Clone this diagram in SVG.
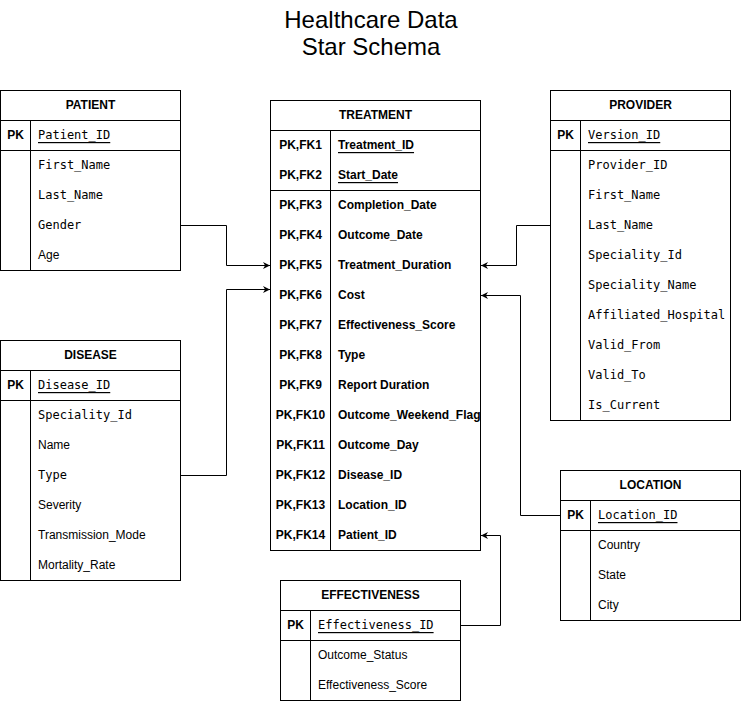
<svg xmlns="http://www.w3.org/2000/svg" width="741" height="701" viewBox="0 0 741 701">
<defs>
<marker id="arr" viewBox="0 0 10 10" refX="10" refY="5" markerWidth="7" markerHeight="7" markerUnits="userSpaceOnUse" orient="auto">
<path d="M0,0 L10,5 L0,10 L3,5 Z" fill="#000"/>
</marker>
<style>
.box{fill:#fff;stroke:#000;stroke-width:1}
.ln{stroke:#000;stroke-width:1;fill:none}
.hd{font-family:"Liberation Sans",Arial,sans-serif;font-size:12px;font-weight:bold;text-anchor:middle;dominant-baseline:central}
.pk{font-family:"Liberation Sans",Arial,sans-serif;font-size:12px;font-weight:bold;text-anchor:middle;dominant-baseline:central}
.s{font-family:"Liberation Sans",Arial,sans-serif;font-size:12px;dominant-baseline:central}
.b{font-family:"Liberation Sans",Arial,sans-serif;font-size:12px;font-weight:bold;dominant-baseline:central}
.m{font-family:"DejaVu Sans Mono",monospace;font-size:12px;dominant-baseline:central}
.u{text-decoration:underline}
.t{font-family:"Liberation Sans",Arial,sans-serif;font-size:24px;text-anchor:middle}
.c{stroke:#000;stroke-width:1;fill:none;marker-end:url(#arr)}
</style>
</defs>
<rect width="741" height="701" fill="#fff"/>
<g id="title">
<text class="t" x="371" y="28">Healthcare Data</text>
<text class="t" x="371" y="55">Star Schema</text>
</g>

<g id="patient">
<rect class="box" x="0.5" y="90.5" width="180" height="180"/>
<path class="ln" d="M0.5,120.5H180.5M0.5,150.5H180.5M30.5,120.5V270.5"/>
<text class="hd" x="90.5" y="105">PATIENT</text>
<text class="pk" x="15.5" y="135">PK</text>
<text class="m u" x="38" y="135">Patient_ID</text>
<text class="m" x="38" y="165">First_Name</text>
<text class="m" x="38" y="195">Last_Name</text>
<text class="m" x="38" y="225">Gender</text>
<text class="s" x="38" y="255">Age</text>
</g>

<g id="disease">
<rect class="box" x="0.5" y="340.5" width="180" height="240"/>
<path class="ln" d="M0.5,370.5H180.5M0.5,400.5H180.5M30.5,370.5V580.5"/>
<text class="hd" x="90.5" y="355">DISEASE</text>
<text class="pk" x="15.5" y="385">PK</text>
<text class="m u" x="38" y="385">Disease_ID</text>
<text class="m" x="38" y="415">Speciality_Id</text>
<text class="s" x="38" y="445">Name</text>
<text class="m" x="38" y="475">Type</text>
<text class="s" x="38" y="505">Severity</text>
<text class="s" x="38" y="535">Transmission_Mode</text>
<text class="s" x="38" y="565">Mortality_Rate</text>
</g>

<g id="treatment">
<rect class="box" x="270.5" y="100.5" width="210" height="450"/>
<path class="ln" d="M270.5,130.5H480.5M270.5,190.5H480.5M330.5,130.5V550.5"/>
<text class="hd" x="375.5" y="115">TREATMENT</text>
<text class="pk" x="300.5" y="145">PK,FK1</text>
<text class="b u" x="338" y="145">Treatment_ID</text>
<text class="pk" x="300.5" y="175">PK,FK2</text>
<text class="b u" x="338" y="175">Start_Date</text>
<text class="pk" x="300.5" y="205">PK,FK3</text>
<text class="b" x="338" y="205">Completion_Date</text>
<text class="pk" x="300.5" y="235">PK,FK4</text>
<text class="b" x="338" y="235">Outcome_Date</text>
<text class="pk" x="300.5" y="265">PK,FK5</text>
<text class="b" x="338" y="265">Treatment_Duration</text>
<text class="pk" x="300.5" y="295">PK,FK6</text>
<text class="b" x="338" y="295">Cost</text>
<text class="pk" x="300.5" y="325">PK,FK7</text>
<text class="b" x="338" y="325">Effectiveness_Score</text>
<text class="pk" x="300.5" y="355">PK,FK8</text>
<text class="b" x="338" y="355">Type</text>
<text class="pk" x="300.5" y="385">PK,FK9</text>
<text class="b" x="338" y="385">Report Duration</text>
<text class="pk" x="300.5" y="415">PK,FK10</text>
<text class="b" x="338" y="415">Outcome_Weekend_Flag</text>
<text class="pk" x="300.5" y="445">PK,FK11</text>
<text class="b" x="338" y="445">Outcome_Day</text>
<text class="pk" x="300.5" y="475">PK,FK12</text>
<text class="b" x="338" y="475">Disease_ID</text>
<text class="pk" x="300.5" y="505">PK,FK13</text>
<text class="b" x="338" y="505">Location_ID</text>
<text class="pk" x="300.5" y="535">PK,FK14</text>
<text class="b" x="338" y="535">Patient_ID</text>
</g>

<g id="provider">
<rect class="box" x="550.5" y="90.5" width="180" height="330"/>
<path class="ln" d="M550.5,120.5H730.5M550.5,150.5H730.5M580.5,120.5V420.5"/>
<text class="hd" x="640.5" y="105">PROVIDER</text>
<text class="pk" x="565.5" y="135">PK</text>
<text class="m u" x="588" y="135">Version_ID</text>
<text class="m" x="588" y="165">Provider_ID</text>
<text class="m" x="588" y="195">First_Name</text>
<text class="m" x="588" y="225">Last_Name</text>
<text class="m" x="588" y="255">Speciality_Id</text>
<text class="m" x="588" y="285">Speciality_Name</text>
<text class="m" x="588" y="315">Affiliated_Hospital</text>
<text class="m" x="588" y="345">Valid_From</text>
<text class="m" x="588" y="375">Valid_To</text>
<text class="m" x="588" y="405">Is_Current</text>
</g>

<g id="location">
<rect class="box" x="560.5" y="470.5" width="180" height="150"/>
<path class="ln" d="M560.5,500.5H740.5M560.5,530.5H740.5M590.5,500.5V620.5"/>
<text class="hd" x="650.5" y="485">LOCATION</text>
<text class="pk" x="575.5" y="515">PK</text>
<text class="m u" x="598" y="515">Location_ID</text>
<text class="s" x="598" y="545">Country</text>
<text class="s" x="598" y="575">State</text>
<text class="s" x="598" y="605">City</text>
</g>

<g id="effectiveness">
<rect class="box" x="280.5" y="580.5" width="180" height="120"/>
<path class="ln" d="M280.5,610.5H460.5M280.5,640.5H460.5M310.5,610.5V700.5"/>
<text class="hd" x="370.5" y="595">EFFECTIVENESS</text>
<text class="pk" x="295.5" y="625">PK</text>
<text class="m u" x="318" y="625">Effectiveness_ID</text>
<text class="s" x="318" y="655">Outcome_Status</text>
<text class="s" x="318" y="685">Effectiveness_Score</text>
</g>

<g id="connectors">
<path class="c" d="M180.5,225.5H226.5V265.5H270"/>
<path class="c" d="M180.5,475.5H226.5V289.5H270"/>
<path class="c" d="M550.5,225.5H516.5V265.5H481"/>
<path class="c" d="M560.5,515.5H520.5V295.5H481"/>
<path class="c" d="M460.5,625.5H500.5V535.5H481"/>
</g>
</svg>
